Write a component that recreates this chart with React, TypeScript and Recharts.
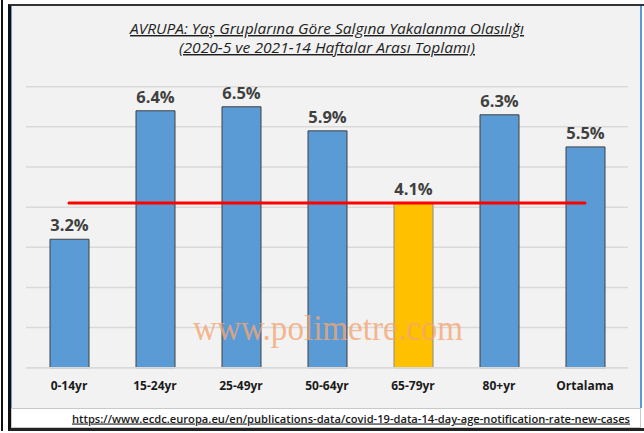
import { ComposedChart, Bar, Line, XAxis, YAxis, CartesianGrid, LabelList, Cell } from 'recharts';

const categories = ['0-14yr', '15-24yr', '25-49yr', '50-64yr', '65-79yr', '80+yr', 'Ortalama'];
const rates = [3.2, 6.4, 6.5, 5.9, 4.1, 6.3, 5.5];
// red reference line (65-79 age group level)
const refLevel = [4.1, 4.1, 4.1, 4.1, 4.1, 4.1, 4.1];
const yTicks = [0, 1, 2, 3, 4, 5, 6, 7];

const titleLine1 = 'AVRUPA: Yaş Gruplarına Göre Salgına Yakalanma Olasılığı';
const titleLine2 = '(2020-5 ve 2021-14 Haftalar Arası Toplamı)';
const sourceText = 'https://www.ecdc.europa.eu/en/publications-data/covid-19-data-14-day-age-notification-rate-new-cases';
const watermark = 'www.polimetre.com';

const data = categories.map((cat, i) => ({ cat, rate: rates[i], level: refLevel[i] }));

const FONT = "'Open Sans', 'Noto Sans', sans-serif";

export default function App() {
  return (
    <div style={{ position: 'fixed', left: 0, top: 0, width: 644, height: 433, background: '#fff', overflow: 'hidden' }}>
      {/* frame */}
      <div style={{ position: 'absolute', left: 1, top: 0, width: 2, height: 431, background: '#111' }} />
      <div
        style={{
          position: 'absolute', left: 8, top: 4, width: 636, height: 427, boxSizing: 'border-box',
          borderLeft: '3px solid #111', borderTop: '2px solid #333', borderBottom: '3px solid #222', background: '#fff',
        }}
      />
      <div
        style={{
          position: 'absolute', left: 11, top: 6, width: 631, height: 402, boxSizing: 'border-box',
          background: '#f2f2f2', borderLeft: '1px solid #6a9cc9', borderRight: '2px solid #5b9bd5',
        }}
      />
      <div
        style={{
          position: 'absolute', left: 11, top: 408, width: 630, height: 20, boxSizing: 'border-box',
          background: '#fff', border: '1px solid #c8c8c8',
        }}
      />

      <div style={{ position: 'absolute', left: 0, top: 0 }}>
        <ComposedChart
          width={644}
          height={433}
          data={data}
          margin={{ top: 86.7, right: 16, left: 26, bottom: 35.3 }}
          barCategoryGap="27%"
        >
          <CartesianGrid vertical={false} stroke="#d9d9d9" strokeWidth={1.5} />
          <YAxis hide domain={[0, 7]} ticks={yTicks} />
          <XAxis
            dataKey="cat"
            height={30}
            axisLine={{ stroke: '#d9d9d9', strokeWidth: 1.5 }}
            tickLine={false}
            tickMargin={8}
            tick={{ fill: '#1a1a1a', fontSize: 12, fontWeight: 700, fontFamily: FONT }}
            interval={0}
          />
          <Bar dataKey="rate" barSize={39} stroke="#404040" strokeWidth={1} isAnimationActive={false}>
            {data.map((d) => (
              <Cell key={d.cat} fill={d.cat === '65-79yr' ? '#ffc000' : '#5b9bd5'} stroke={d.cat === '65-79yr' ? '#8a8a8a' : '#404040'} />
            ))}
            <LabelList
              dataKey="rate"
              position="top"
              offset={8}
              formatter={(v: number) => `${v.toFixed(1)}%`}
              style={{ fill: '#404040', fontSize: 16.5, fontWeight: 700, fontFamily: FONT }}
            />
          </Bar>
          <Line
            dataKey="level"
            stroke="#ff0000"
            strokeWidth={3}
            strokeLinecap="round"
            dot={false}
            activeDot={false}
            isAnimationActive={false}
          />
        </ComposedChart>
      </div>

      <svg width={644} height={433} style={{ position: 'absolute', left: 0, top: 0, pointerEvents: 'none' }}>
        <text
          x={327} y={34} textAnchor="middle" fontFamily={FONT} fontStyle="italic" fontSize={14.5}
          fill="#1f1f1f" textDecoration="underline" textLength={394} lengthAdjust="spacingAndGlyphs"
        >
          {titleLine1}
        </text>
        <text
          x={327} y={53} textAnchor="middle" fontFamily={FONT} fontStyle="italic" fontSize={14.5}
          fill="#1f1f1f" textDecoration="underline" textLength={296} lengthAdjust="spacingAndGlyphs"
        >
          {titleLine2}
        </text>
        <text
          x={328} y={340} textAnchor="middle" fontFamily="'Liberation Serif', 'DejaVu Serif', serif" fontSize={36}
          fill="#f4a672" fillOpacity={0.8} textLength={270} lengthAdjust="spacingAndGlyphs"
        >
          {watermark}
        </text>
        <text
          x={351} y={422.5} textAnchor="middle" fontFamily={FONT} fontSize={11} fontWeight={600}
          fill="#1a1a1a" textDecoration="underline" textLength={558} lengthAdjust="spacingAndGlyphs"
        >
          {sourceText}
        </text>
      </svg>
    </div>
  );
}
